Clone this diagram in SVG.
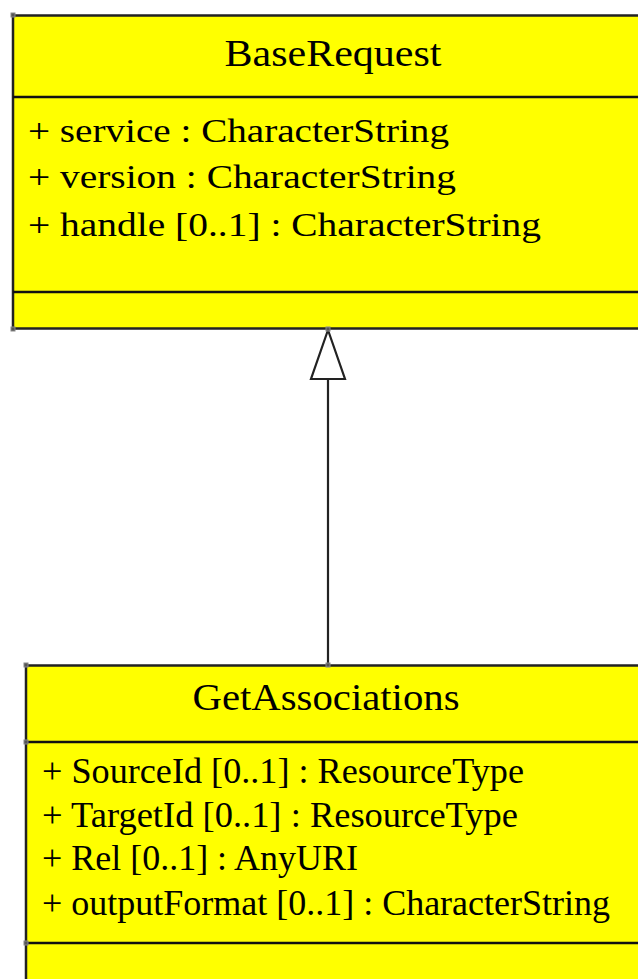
<svg xmlns="http://www.w3.org/2000/svg" width="638" height="979" viewBox="0 0 638 979">
<style>
.box{fill:#ffff00;stroke:#222;stroke-width:2.5}
.sep{stroke:#111;stroke-width:2.5}
.t{font-family:"Liberation Serif","Times New Roman",serif;fill:#000}
.title{font-size:37px;text-anchor:middle}
.a1{font-size:33px}
.a2{font-size:35px}
.conn{stroke:#222;stroke-width:2.2;fill:none}
.head{fill:#fff;stroke:#222;stroke-width:2.2}
.h{fill:#555;stroke:#888;stroke-width:1}
</style>
<rect width="638" height="979" fill="#fff"/>
<g id="BaseRequest">
<rect class="box" x="13" y="15.5" width="640" height="313"/>
<line class="sep" x1="13" y1="97" x2="638" y2="97"/>
<line class="sep" x1="13" y1="292" x2="638" y2="292"/>
<text class="t title" x="333" y="66" textLength="217" lengthAdjust="spacingAndGlyphs">BaseRequest</text>
<text class="t a1" x="28" y="142" textLength="421" lengthAdjust="spacingAndGlyphs">+ service : CharacterString</text>
<text class="t a1" x="28" y="188" textLength="428" lengthAdjust="spacingAndGlyphs">+ version : CharacterString</text>
<text class="t a1" x="28" y="236" textLength="513" lengthAdjust="spacingAndGlyphs">+ handle [0..1] : CharacterString</text>
</g>
<g id="GetAssociations">
<rect class="box" x="26" y="665.5" width="630" height="330"/>
<line class="sep" x1="26" y1="742" x2="638" y2="742"/>
<line class="sep" x1="26" y1="943" x2="638" y2="943"/>
<text class="t title" x="326" y="710" textLength="267" lengthAdjust="spacingAndGlyphs">GetAssociations</text>
<text class="t a2" x="42" y="783" textLength="482" lengthAdjust="spacingAndGlyphs">+ SourceId [0..1] : ResourceType</text>
<text class="t a2" x="42" y="827" textLength="476" lengthAdjust="spacingAndGlyphs">+ TargetId [0..1] : ResourceType</text>
<text class="t a2" x="42" y="870" textLength="316" lengthAdjust="spacingAndGlyphs">+ Rel [0..1] : AnyURI</text>
<text class="t a2" x="42" y="915" textLength="568" lengthAdjust="spacingAndGlyphs">+ outputFormat [0..1] : CharacterString</text>
</g>
<g id="connectors">
<line class="conn" x1="328" y1="379" x2="328" y2="665"/>
<polygon class="head" points="328,330 311,379 345,379"/>
</g>
<g id="handles">
<rect class="h" x="11" y="13" width="4" height="4"/>
<rect class="h" x="11" y="327" width="4" height="4"/>
<rect class="h" x="326" y="327" width="4" height="4"/>
<rect class="h" x="24" y="663" width="4" height="4"/>
<rect class="h" x="326" y="663" width="4" height="4"/>
<rect class="h" x="24" y="740" width="4" height="4"/>
<rect class="h" x="24" y="941" width="4" height="4"/>
</g>
</svg>
